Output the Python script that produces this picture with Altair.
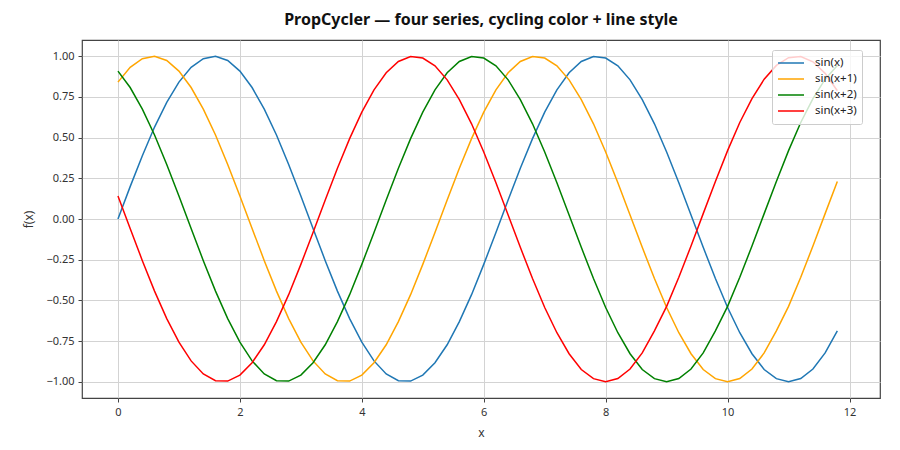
import altair as alt
import pandas as pd

x_vals = [round(0.2 * i, 1) for i in range(60)]

sin_x = [0.000, 0.199, 0.389, 0.565, 0.717, 0.841, 0.932, 0.985, 1.000, 0.974,
         0.909, 0.808, 0.675, 0.516, 0.335, 0.141, -0.058, -0.256, -0.443, -0.612,
         -0.757, -0.872, -0.952, -0.994, -0.996, -0.959, -0.883, -0.773, -0.631, -0.465,
         -0.279, -0.083, 0.117, 0.312, 0.494, 0.657, 0.794, 0.899, 0.968, 0.999,
         0.989, 0.941, 0.855, 0.734, 0.585, 0.412, 0.223, 0.025, -0.174, -0.366,
         -0.544, -0.699, -0.828, -0.925, -0.981, -1.000, -0.980, -0.922, -0.823, -0.688]

sin_x1 = [0.841, 0.932, 0.985, 1.000, 0.974, 0.909, 0.808, 0.675, 0.516, 0.335,
          0.141, -0.058, -0.256, -0.443, -0.612, -0.757, -0.872, -0.952, -0.994, -0.996,
          -0.959, -0.883, -0.773, -0.631, -0.465, -0.279, -0.083, 0.117, 0.312, 0.494,
          0.657, 0.794, 0.899, 0.968, 0.999, 0.989, 0.941, 0.855, 0.734, 0.585,
          0.412, 0.223, 0.025, -0.174, -0.366, -0.544, -0.699, -0.828, -0.925, -0.981,
          -1.000, -0.980, -0.922, -0.823, -0.688, -0.537, -0.358, -0.166, 0.033, 0.231]

sin_x2 = [0.909, 0.808, 0.675, 0.516, 0.335, 0.141, -0.058, -0.256, -0.443, -0.612,
          -0.757, -0.872, -0.952, -0.994, -0.996, -0.959, -0.883, -0.773, -0.631, -0.465,
          -0.279, -0.083, 0.117, 0.312, 0.494, 0.657, 0.794, 0.899, 0.968, 0.999,
          0.989, 0.941, 0.855, 0.734, 0.585, 0.412, 0.223, 0.025, -0.174, -0.366,
          -0.544, -0.699, -0.828, -0.925, -0.981, -1.000, -0.980, -0.922, -0.823, -0.688,
          -0.537, -0.358, -0.166, 0.033, 0.231, 0.420, 0.593, 0.740, 0.859, 0.944]

sin_x3 = [0.141, -0.058, -0.256, -0.443, -0.612, -0.757, -0.872, -0.952, -0.994, -0.996,
          -0.959, -0.883, -0.773, -0.631, -0.465, -0.279, -0.083, 0.117, 0.312, 0.494,
          0.657, 0.794, 0.899, 0.968, 0.999, 0.989, 0.941, 0.855, 0.734, 0.585,
          0.412, 0.223, 0.025, -0.174, -0.366, -0.544, -0.699, -0.828, -0.925, -0.981,
          -1.000, -0.980, -0.922, -0.823, -0.688, -0.537, -0.358, -0.166, 0.033, 0.231,
          0.420, 0.593, 0.740, 0.859, 0.944, 0.991, 0.998, 0.966, 0.895, 0.788]

series_names = ["sin(x)", "sin(x+1)", "sin(x+2)", "sin(x+3)"]
series_colors = ["#1f77b4", "#ffa500", "#008000", "#ff0000"]
x_ticks = [0, 2, 4, 6, 8, 10, 12]
y_ticks = [-1.0, -0.75, -0.5, -0.25, 0.0, 0.25, 0.5, 0.75, 1.0]

rows = []
for name, vals in zip(series_names, [sin_x, sin_x1, sin_x2, sin_x3]):
    for i, (xv, yv) in enumerate(zip(x_vals, vals)):
        rows.append({"x": xv, "y": yv, "series": name, "i": i})
df = pd.DataFrame(rows)

FONT = "Noto Sans"

chart = alt.Chart(df).mark_line(strokeWidth=1.5).encode(
    x=alt.X("x:Q", title="x",
            scale=alt.Scale(domain=[-0.59, 12.5], nice=False, zero=False),
            axis=alt.Axis(values=x_ticks, format="d")),
    y=alt.Y("y:Q", title="f(x)",
            scale=alt.Scale(domain=[-1.1, 1.1], nice=False, zero=False),
            axis=alt.Axis(values=y_ticks, format=".2f")),
    color=alt.Color("series:N",
                    scale=alt.Scale(domain=series_names, range=series_colors),
                    legend=alt.Legend(title=None, orient="none", legendX=690, legendY=10,
                                      symbolType="stroke", symbolSize=676,
                                      symbolStrokeWidth=1.5,
                                      labelFontSize=11.5, labelFont=FONT, labelColor="#222",
                                      padding=5, rowPadding=0, clipHeight=16, labelOffset=10,
                                      fillColor="rgba(255,255,255,0.8)",
                                      strokeColor="#cccccc", cornerRadius=2)),
    detail="series:N",
    order="i:Q",
).properties(
    width=798,
    height=358,
    title=alt.TitleParams("PropCycler — four series, cycling color + line style",
                          font=FONT, fontSize=16, fontWeight="bold", color="#111",
                          offset=12),
    autosize=alt.AutoSizeParams(type="none"),
    padding={"left": 74, "top": 32, "right": 12, "bottom": 44},
).configure_view(
    stroke="#444", strokeWidth=1.2
).configure_axis(
    labelFont=FONT, titleFont=FONT, labelFontSize=11, titleFontSize=12,
    labelColor="#333", titleColor="#333", titleFontWeight="normal",
    gridColor="#d3d3d3", gridWidth=1,
    domain=False, tickColor="#444", tickSize=4, labelPadding=4,
).configure_axisX(
    titlePadding=10
).configure_axisY(
    titlePadding=10
)

chart.save("out.html", embed_options={"renderer": "svg", "actions": False})
